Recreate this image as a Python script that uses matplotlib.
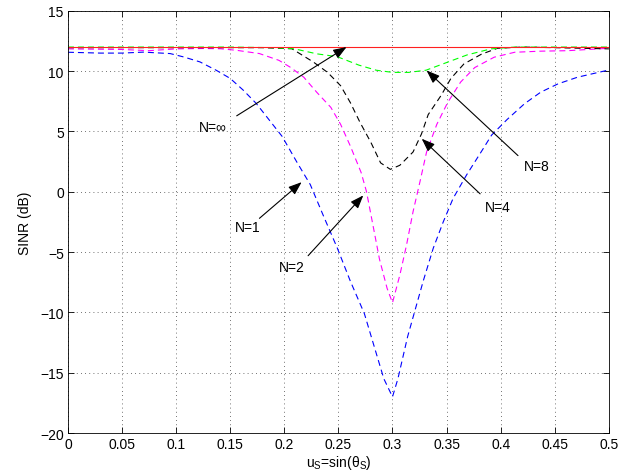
import matplotlib
matplotlib.use("Agg")
import matplotlib.pyplot as plt

plt.rcParams['font.family'] = ['Liberation Sans', 'DejaVu Sans']
plt.rcParams['mathtext.fontset'] = 'custom'
plt.rcParams['mathtext.rm'] = 'Liberation Sans'
plt.rcParams['mathtext.it'] = 'Liberation Sans:italic'

# N=1 (blue)
u_n1 = [0, 0.03, 0.05, 0.07, 0.0945, 0.107, 0.122, 0.137, 0.15, 0.162, 0.174, 0.186,
        0.198, 0.212, 0.224, 0.236, 0.249, 0.261, 0.274, 0.283, 0.292, 0.3, 0.305,
        0.314, 0.3284, 0.3377, 0.3469, 0.356, 0.3685, 0.384, 0.3916, 0.406, 0.422,
        0.437, 0.453, 0.471, 0.5]
sinr_n1 = [11.57, 11.5, 11.5, 11.58, 11.46, 11.18, 10.77, 10.08, 9.4, 8.43, 7.33, 5.96,
           4.59, 2.4, 0.6, -1.96, -4.67, -7.4, -10.1, -12.8, -15.5, -17.0, -15.5,
           -12.0, -7.4, -4.67, -2.5, -0.55, 1.4, 3.6, 4.7, 6.0, 7.3,
           8.26, 8.95, 9.5, 10.1]

# N=2 (magenta)
u_n2 = [0, 0.05, 0.075, 0.1, 0.125, 0.141, 0.156, 0.177, 0.195, 0.206, 0.218, 0.23,
        0.243, 0.252, 0.261, 0.271, 0.276, 0.282, 0.288, 0.295, 0.3, 0.3068, 0.313,
        0.319, 0.3253, 0.3315, 0.341, 0.351, 0.363, 0.376, 0.394, 0.413, 0.437,
        0.462, 0.5]
sinr_n2 = [11.85, 11.8, 11.7, 11.85, 11.88, 11.86, 11.73, 11.46, 10.9, 10.3, 9.5, 8.25,
           7.0, 5.6, 3.8, 1.6, 0.0, -2.8, -5.6, -8.0, -9.2, -6.9, -4.4,
           -1.65, 0.8, 3.3, 5.6, 7.4, 9.1, 10.3, 11.16, 11.57, 11.66,
           11.7, 11.9]

# N=4 (black)
u_n4 = [0, 0.1, 0.18, 0.207, 0.227, 0.24, 0.252, 0.261, 0.27, 0.28, 0.289, 0.298,
        0.3068, 0.319, 0.3268, 0.333, 0.345, 0.354, 0.366, 0.382, 0.397,
        0.42, 0.45, 0.5]
sinr_n4 = [11.95, 11.95, 11.95, 11.86, 10.75, 9.9, 8.8, 7.4, 5.75, 4.1, 2.4, 1.86,
           2.2, 3.3, 4.8, 6.4, 8.0, 9.4, 10.6, 11.4, 11.9,
           12.0, 11.95, 11.85]

# N=8 (green)
u_n8 = [0, 0.15, 0.19, 0.209, 0.23, 0.249, 0.269, 0.285, 0.3, 0.315, 0.331, 0.351,
        0.369, 0.391, 0.413, 0.45, 0.5]
sinr_n8 = [12.0, 12.0, 11.95, 11.86, 11.44, 11.2, 10.5, 10.08, 9.9, 9.9, 10.08, 10.75,
           11.35, 11.85, 12.0, 12.0, 12.0]

# N=inf (red)
u_inf = [0, 0.5]
sinr_inf = [12.0, 12.0]

x_ticks = [0, 0.05, 0.1, 0.15, 0.2, 0.25, 0.3, 0.35, 0.4, 0.45, 0.5]
x_labels = ['0', '0.05', '0.1', '0.15', '0.2', '0.25', '0.3', '0.35', '0.4', '0.45', '0.5']
y_ticks = [-20, -15, -10, -5, 0, 5, 10, 15]
y_labels = ['\u221220', '\u221215', '\u221210', '\u22125', '0', '5', '10', '15']

# annotations: label, text position, arrow tail, arrow head
notes = [
    ('N=\u221e', (0.134, 5.4), (0.156, 6.3), (0.2575, 12.0)),
    ('N=1', (0.166, -2.9), (0.177, -2.2), (0.216, 0.8)),
    ('N=2', (0.207, -6.2), (0.222, -5.3), (0.273, -0.3)),
    ('N=4', (0.397, -1.3), (0.381, -0.17), (0.327, 4.4)),
    ('N=8', (0.433, 2.1), (0.416, 3.0), (0.3315, 10.06)),
]


def main():
    fig = plt.figure(figsize=(6.29, 4.77), dpi=100)
    ax = fig.add_axes([0.108, 0.0901, 0.860, 0.885])

    dash = (5.4, 3.6)
    ax.plot(u_n1, sinr_n1, color='#0000ff', lw=0.8, dashes=dash)
    ax.plot(u_n2, sinr_n2, color='#ff00ff', lw=0.8, dashes=dash)
    ax.plot(u_n4, sinr_n4, color='black', lw=0.8, dashes=dash)
    ax.plot(u_n8, sinr_n8, color='#00ff00', lw=0.8, dashes=dash)
    ax.plot(u_inf, sinr_inf, color='#ff2020', lw=0.8)

    for label, txt, tail, head in notes:
        ax.annotate('', xy=head, xytext=tail,
                    arrowprops=dict(arrowstyle='-|>,head_length=0.8,head_width=0.3',
                                    color='black', lw=0.8, shrinkA=0, shrinkB=0))
        ax.text(txt[0], txt[1], label, ha='center', va='center', fontsize=10)

    ax.set_xlim(0, 0.5)
    ax.set_ylim(-20, 15)
    ax.set_xticks(x_ticks)
    ax.set_xticklabels(x_labels)
    ax.set_yticks(y_ticks)
    ax.set_yticklabels(y_labels)
    ax.tick_params(direction='in', length=4, width=0.6, labelsize=10,
                   top=True, right=True, pad=3)
    ax.grid(True, color='#444444', linestyle=(0, (1, 4)), lw=0.6)
    for s in ax.spines.values():
        s.set_linewidth(0.6)

    ax.set_xlabel('u$_{\\mathrm{S}}$=sin(\u03b8$_{\\mathrm{S}}$)', fontsize=10, labelpad=1)
    ax.set_ylabel('SINR (dB)', fontsize=10, labelpad=6)

    fig.savefig('out.png', dpi=100)


if __name__ == "__main__": main()
